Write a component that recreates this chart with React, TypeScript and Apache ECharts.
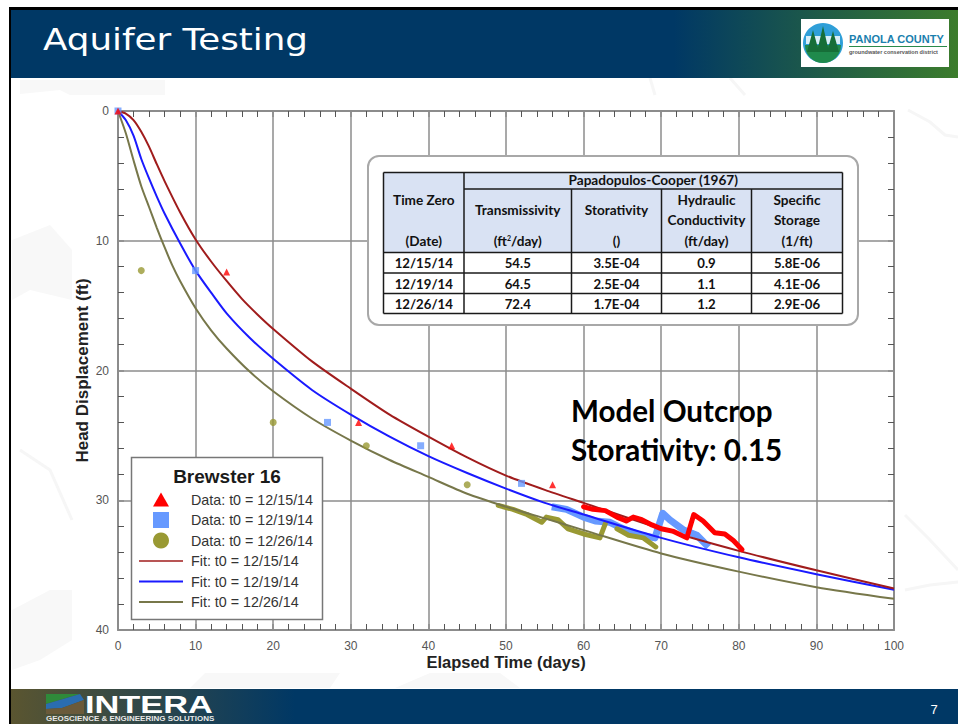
import React, { useEffect, useRef } from "react";
import * as echarts from "echarts";

const xTicks = [0, 100];
const yTicks = [0, 40];

const fitRed = [[0,0],[1,0.2],[2,0.7],[3,1.6],[4,2.75],[5,4.1],[6,5.4],[8,7.8],[10,9.9],[12,11.6],[14,13.1],[16,14.5],[18,15.7],[20,16.8],[25,19.3],[30,21.4],[35,23.4],[40,25.1],[45,26.7],[50,28.1],[55,29.2],[60,30.2],[70,32.2],[80,33.9],[90,35.4],[100,36.8]];
const fitBlue = [[0,0],[1,0.7],[2,1.9],[3,3.7],[4,5.2],[5,6.6],[6,7.9],[8,10.2],[10,12.3],[12,14],[14,15.6],[17,17.5],[20,19.1],[25,21.5],[30,23.4],[35,25.1],[40,26.6],[45,27.9],[50,29.1],[55,30.2],[60,31.1],[70,32.9],[80,34.4],[90,35.7],[100,36.9]];
const fitOlive = [[0,0],[1,1.7],[2,3.8],[3,5.8],[4,7.4],[5,9],[6,10.5],[7,11.9],[8,13.1],[10,15.2],[12,16.9],[14,18.3],[17,20.1],[20,21.6],[25,23.7],[30,25.4],[35,26.9],[40,28.2],[45,29.5],[50,30.5],[55,31.4],[60,32.3],[70,34.1],[80,35.5],[90,36.7],[100,37.6]];

const sparseRed = [[0,0],[14,12.4],[31,24],[43,25.8],[56,28.8]];
const sparseBlue = [[0,0],[10,12.3],[27,24],[39,25.8],[52,28.7]];
const sparseOlive = [[3,12.3],[20,24],[32,25.8],[45,28.8]];

const denseRed = [[60,30.5],[61.2,30.7],[62.8,30.8],[64.3,31.3],[65.5,31.6],[66.4,31.3],[67.5,31.5],[68.8,31.9],[70,32.2],[71.6,32.4],[73.3,32.9],[74.2,31.1],[75.4,31.6],[76.9,32.5],[78.2,32.6],[79.3,33.1],[80.4,33.8]];
const denseBlue = [[55.9,30.5],[57.8,30.7],[60,31.3],[61.5,31.6],[63.4,31.7],[65.1,32.2],[67.3,32.7],[69.2,32.9],[70.2,31],[71.1,31.5],[72.9,32.3],[74.6,32.7],[76.1,33.6]];
const denseOlive = [[49,30.4],[50.9,30.7],[52.7,31.1],[54.6,31.7],[55.2,31.3],[56.7,31.5],[58,32.2],[60,32.6],[62.1,32.9],[62.8,31.8]];
const denseOlive2 = [[64.3,32.2],[65.8,32.7],[67.7,32.9],[69.3,33.6]];

const tableRows = [
  ["12/15/14", "54.5", "3.5E-04", "0.9", "5.8E-06"],
  ["12/19/14", "64.5", "2.5E-04", "1.1", "4.1E-06"],
  ["12/26/14", "72.4", "1.7E-04", "1.2", "2.9E-06"],
];
const tableColumnHeads = [
  "Transmissivity", "Storativity", "Hydraulic", "Conductivity", "Specific", "Storage",
];
const tableUnits = ["(Date)", "(ft{s|2}/day)", "()", "(ft/day)", "(1/ft)"];

const legendData = [
  { label: "Data: t0 = 12/15/14", kind: "triangle", color: "#ff0000" },
  { label: "Data: t0 = 12/19/14", kind: "square", color: "#6699ff" },
  { label: "Data: t0 = 12/26/14", kind: "circle", color: "#999933" },
  { label: "Fit: t0 = 12/15/14", kind: "line", color: "#a01c1c" },
  { label: "Fit: t0 = 12/19/14", kind: "line", color: "#1a1aff" },
  { label: "Fit: t0 = 12/26/14", kind: "line", color: "#77774a" },
];

const AX = "#8c8c8c";
const ARIAL = "'Liberation Sans', Arial, sans-serif";
const CAL = "Lato, 'Open Sans', sans-serif";

function buildGraphics() {
  const g: any[] = [];
  const Z = 100;
  // backdrop
  g.push({ type: "rect", z: -20, silent: true, shape: { x: 0, y: 0, width: 958, height: 724 }, style: { fill: "#ffffff" } });
  const faint = [
    [[20,94],[60,90],[70,95],[165,95],[165,80],[20,80]],
    [[100,688],[190,688],[205,673],[340,673],[330,688]],
    [[395,688],[430,673],[500,673],[520,688]],
    [[12,240],[50,225],[72,250],[72,300],[30,290],[12,300]],
    [[12,610],[50,590],[72,590],[72,640],[40,660],[12,670]],
  ];
  faint.forEach((pts) => g.push({ type: "polygon", z: -15, silent: true, shape: { points: pts }, style: { fill: "#f8f8f8" } }));
  const faintLines = [
    [[908,110],[930,122],[945,135],[958,137]],
    [[905,515],[930,540],[958,570]],
    [[905,590],[930,585],[958,582]],
    [[20,450],[50,470],[72,520]],
    [[650,78],[655,95]],
    [[730,78],[745,95]],
  ];
  faintLines.forEach((pts) => g.push({ type: "polyline", z: -15, silent: true, shape: { points: pts }, style: { stroke: "#f6f6f6", lineWidth: 3, fill: "none" } }));

  // frame
  g.push({ type: "rect", z: Z, silent: true, shape: { x: 9, y: 7, width: 949, height: 3 }, style: { fill: "#000" } });
  g.push({ type: "rect", z: Z, silent: true, shape: { x: 9, y: 7, width: 2, height: 717 }, style: { fill: "#000" } });
  // header
  g.push({
    type: "rect", z: Z, silent: true, shape: { x: 11, y: 10, width: 947, height: 68 },
    style: { fill: new echarts.graphic.LinearGradient(0, 0, 1, 0, [
      { offset: 0, color: "#003865" }, { offset: 0.7, color: "#003865" }, { offset: 1, color: "#3c7c2c" },
    ]) },
  });
  g.push({ type: "text", z: Z + 1, silent: true, x: 43, y: 40, scaleX: 1.19, style: { text: "Aquifer Testing", fill: "#fff", font: "30px 'DejaVu Sans', sans-serif", verticalAlign: "middle" } });
  // county logo
  g.push({ type: "rect", z: Z + 1, silent: true, shape: { x: 801, y: 19, width: 148, height: 48 }, style: { fill: "#fff" } });
  g.push({ type: "circle", z: Z + 2, silent: true, shape: { cx: 823, cy: 43, r: 20 }, style: { fill: "#2f9fd8" } });
  g.push({ type: "rect", z: Z + 2, silent: true, shape: { x: 806, y: 36, width: 34, height: 8 }, style: { fill: "#d8eef8" } });
  g.push({ type: "sector", z: Z + 3, silent: true, shape: { cx: 823, cy: 45, r: 18, startAngle: 0, endAngle: Math.PI }, style: { fill: "#1f8a4c" } });
  [[813, 30], [823, 26], [833, 31]].forEach(([cx, top]) =>
    g.push({ type: "polygon", z: Z + 4, silent: true, shape: { points: [[cx, top], [cx + 6, 52], [cx - 6, 52]] }, style: { fill: "#166e38" } }));
  g.push({ type: "text", z: Z + 4, silent: true, x: 849, y: 39, style: { text: "PANOLA COUNTY", fill: "#1b7fae", font: "bold 11px 'Liberation Sans', sans-serif", verticalAlign: "middle" } });
  g.push({ type: "rect", z: Z + 4, silent: true, shape: { x: 849, y: 46, width: 98, height: 1 }, style: { fill: "#2a8a4a" } });
  g.push({ type: "text", z: Z + 4, silent: true, x: 849, y: 52, style: { text: "groundwater conservation district", fill: "#555", font: "bold 5.5px 'Liberation Sans', sans-serif", verticalAlign: "middle" } });

  // footer
  g.push({
    type: "rect", z: Z, silent: true, shape: { x: 11, y: 689, width: 947, height: 35 },
    style: { fill: new echarts.graphic.LinearGradient(0, 0, 1, 0, [
      { offset: 0, color: "#5a5530" }, { offset: 0.3, color: "#003865" }, { offset: 1, color: "#003865" },
    ]) },
  });
  g.push({ type: "polygon", z: Z + 1, silent: true, shape: { points: [[46,694],[80,694],[46,704]] }, style: { fill: "#2f8a3a" } });
  g.push({ type: "polygon", z: Z + 1, silent: true, shape: { points: [[46,704],[80,694],[84,700],[62,708],[46,709]] }, style: { fill: "#2a6db0" } });
  g.push({ type: "polygon", z: Z + 1, silent: true, shape: { points: [[46,709],[62,708],[84,700],[84,714],[46,714]] }, style: { fill: "#6a5a3a" } });
  g.push({ type: "text", z: Z + 1, silent: true, x: 85, y: 704, scaleX: 1.43, style: { text: "INTERA", fill: "#fff", font: "bold 24px 'Liberation Sans', sans-serif", verticalAlign: "middle" } });
  g.push({ type: "text", z: Z + 1, silent: true, x: 46, y: 719, scaleX: 1.25, style: { text: "GEOSCIENCE & ENGINEERING SOLUTIONS", fill: "#e8e8e8", font: "bold 6.4px 'Liberation Sans', sans-serif", verticalAlign: "middle" } });
  g.push({ type: "text", z: Z + 1, silent: true, x: 934, y: 709, style: { text: "7", fill: "#fff", font: "13px 'Liberation Sans', sans-serif", align: "center", verticalAlign: "middle" } });

  // model outcrop note
  g.push({ type: "text", z: Z, silent: true, x: 571, y: 410, style: { text: "Model Outcrop", fill: "#000", font: `bold 29.6px ${CAL}`, verticalAlign: "middle" } });
  g.push({ type: "text", z: Z, silent: true, x: 571, y: 449, style: { text: "Storativity: 0.15", fill: "#000", font: `bold 29.6px ${CAL}`, verticalAlign: "middle" } });

  // parameter table
  const cols = [383.5, 464, 571.5, 661.5, 751.5, 842.5];
  const rows = [172.5, 189, 252.5, 273, 293.5, 313.5];
  g.push({ type: "rect", z: Z, silent: true, shape: { x: 368, y: 156, width: 490, height: 169, r: 11 }, style: { fill: "#fff", stroke: "#a8a8a8", lineWidth: 2 } });
  g.push({ type: "rect", z: Z + 1, silent: true, shape: { x: cols[0], y: rows[0], width: cols[5] - cols[0], height: rows[2] - rows[0] }, style: { fill: "#d9e2f3" } });
  const line = (x1: number, y1: number, x2: number, y2: number, w = 1.5) =>
    g.push({ type: "line", z: Z + 2, silent: true, shape: { x1, y1, x2, y2 }, style: { stroke: "#1a1a1a", lineWidth: w } });
  [0, 2, 3, 4, 5].forEach((i) => line(cols[0], rows[i], cols[5], rows[i]));
  line(cols[1], rows[1], cols[5], rows[1]);
  line(cols[0], rows[0], cols[0], rows[5]);
  line(cols[1], rows[0], cols[1], rows[5]);
  [2, 3, 4].forEach((i) => line(cols[i], rows[1], cols[i], rows[5]));
  line(cols[5], rows[0], cols[5], rows[5]);
  const cell = (text: string, x: number, y: number, size = 13.6) =>
    g.push({
      type: "text", z: Z + 3, silent: true, x, y,
      style: {
        text, fill: "#111", font: `bold ${size}px ${CAL}`, align: "center", verticalAlign: "middle",
        rich: { s: { font: `bold 7px ${CAL}`, fill: "#111", verticalAlign: "top", lineHeight: 14, padding: [0, 0, 6, 0] } },
      },
    });
  const mid = (i: number) => (cols[i] + cols[i + 1]) / 2;
  cell("Papadopulos-Cooper (1967)", (cols[1] + cols[5]) / 2, 179.5);
  cell("Time Zero", mid(0), 200);
  cell(tableColumnHeads[0], mid(1), 210);
  cell(tableColumnHeads[1], mid(2), 210);
  cell(tableColumnHeads[2], mid(3), 200);
  cell(tableColumnHeads[3], mid(3), 220);
  cell(tableColumnHeads[4], mid(4), 200);
  cell(tableColumnHeads[5], mid(4), 220);
  tableUnits.forEach((u, i) => cell(u, mid(i), 241));
  tableRows.forEach((r, ri) => r.forEach((v, ci) => cell(v, mid(ci), (rows[ri + 2] + rows[ri + 3]) / 2 + 0.5, 13.2)));

  // legend box
  g.push({ type: "rect", z: Z, silent: true, shape: { x: 131.5, y: 457.5, width: 191, height: 162 }, style: { fill: "#fff", stroke: "#777", lineWidth: 1.5 } });
  g.push({ type: "text", z: Z + 1, silent: true, x: 227, y: 476, style: { text: "Brewster 16", fill: "#1a1a1a", font: `bold 19px ${ARIAL}`, align: "center", verticalAlign: "middle" } });
  legendData.forEach((it, i) => {
    const y = 499.5 + i * 20.5;
    g.push({ type: "text", z: Z + 1, silent: true, x: 191, y, style: { text: it.label, fill: "#333", font: `14.3px ${ARIAL}`, verticalAlign: "middle" } });
    if (it.kind === "triangle") g.push({ type: "polygon", z: Z + 1, silent: true, shape: { points: [[161, y - 7], [169, y + 7], [153, y + 7]] }, style: { fill: it.color } });
    if (it.kind === "square") g.push({ type: "rect", z: Z + 1, silent: true, shape: { x: 153, y: y - 8, width: 16, height: 16 }, style: { fill: it.color } });
    if (it.kind === "circle") g.push({ type: "circle", z: Z + 1, silent: true, shape: { cx: 161, cy: y, r: 8 }, style: { fill: it.color } });
    if (it.kind === "line") g.push({ type: "line", z: Z + 1, silent: true, shape: { x1: 139, y1: y, x2: 183, y2: y }, style: { stroke: it.color, lineWidth: i === 3 ? 1.5 : 2 } });
  });
  return g;
}

const minorTick = { show: true, splitNumber: 5, length: 6, lineStyle: { color: "#555", width: 1 } };
const fitStyle = { symbol: "none", smooth: 0.25 };

export default function App() {
  const ref = useRef<HTMLDivElement>(null);
  useEffect(() => {
    document.body.style.margin = "0";
    const chart = echarts.init(ref.current!, undefined, { renderer: "svg" });
    const valAxis = (extra: any) => ({
      type: "value",
      interval: 10,
      axisLine: { show: true, onZero: false, lineStyle: { color: AX, width: 2 } },
      axisTick: { show: true, inside: true, length: 6, lineStyle: { color: AX, width: 1.5 } },
      minorTick,
      ...extra,
    });
    chart.setOption({
      animation: false,
      backgroundColor: "transparent",
      grid: { left: 118, top: 111, width: 776, height: 519, containLabel: false },
      graphic: { elements: buildGraphics() },
      xAxis: [
        valAxis({
          position: "bottom", min: xTicks[0], max: xTicks[1],
          name: "Elapsed Time (days)", nameLocation: "middle", nameGap: 23, nameMoveOverlap: false,
          nameTextStyle: { fontFamily: ARIAL, fontWeight: "bold", fontSize: 16.5, color: "#222" },
          axisLabel: { fontFamily: ARIAL, fontSize: 12, color: "#555", margin: 10 },
          splitLine: { show: true, lineStyle: { color: AX, width: 1.5 } },
        }),
        valAxis({ position: "top", min: xTicks[0], max: xTicks[1], axisLabel: { show: false }, splitLine: { show: false } }),
      ],
      yAxis: [
        valAxis({
          position: "left", inverse: true, min: yTicks[0], max: yTicks[1],
          name: "Head Displacement (ft)", nameLocation: "middle", nameGap: 27, nameMoveOverlap: false, nameRotate: 90,
          nameTextStyle: { fontFamily: ARIAL, fontWeight: "bold", fontSize: 17, color: "#222" },
          axisLabel: { fontFamily: ARIAL, fontSize: 12, color: "#555", margin: 9 },
          splitLine: { show: true, lineStyle: { color: AX, width: 1.5 } },
        }),
        valAxis({ position: "right", inverse: true, min: yTicks[0], max: yTicks[1], axisLabel: { show: false }, splitLine: { show: false } }),
      ],
      series: [
        { name: "Data: t0 = 12/19/14", type: "line", z: 3, data: denseBlue, symbol: "none", lineStyle: { color: "#6699ff", width: 7, join: "round" } },
        { name: "Data: t0 = 12/26/14", type: "line", z: 3, data: denseOlive2, symbol: "none", lineStyle: { color: "#999933", width: 5, cap: "round", join: "round" } },
        { name: "Data: t0 = 12/26/14", type: "line", z: 4, data: denseOlive, symbol: "none", lineStyle: { color: "#999933", width: 5, cap: "round", join: "round" } },
        { name: "Fit: t0 = 12/26/14", type: "line", z: 5, data: fitOlive, ...fitStyle, lineStyle: { color: "#77774a", width: 2 } },
        { name: "Fit: t0 = 12/19/14", type: "line", z: 5, data: fitBlue, ...fitStyle, lineStyle: { color: "#1a1aff", width: 2 } },
        { name: "Fit: t0 = 12/15/14", type: "line", z: 5, data: fitRed, ...fitStyle, lineStyle: { color: "#a01c1c", width: 2 } },
        { name: "Data: t0 = 12/15/14", type: "line", z: 6, data: denseRed, symbol: "none", lineStyle: { color: "#ff0000", width: 5, cap: "round", join: "round" } },
        { name: "Data: t0 = 12/19/14", type: "scatter", z: 6, clip: false, data: sparseBlue, symbol: "rect", symbolSize: 7, itemStyle: { color: "#6699ff" } },
        { name: "Data: t0 = 12/26/14", type: "scatter", z: 6, clip: false, data: sparseOlive, symbol: "circle", symbolSize: 7, itemStyle: { color: "#999933" } },
        { name: "Data: t0 = 12/15/14", type: "scatter", z: 7, clip: false, data: sparseRed, symbol: "triangle", symbolSize: 7, itemStyle: { color: "#ff0000" } },
      ],
    });
    return () => chart.dispose();
  }, []);
  return <div ref={ref} style={{ position: "absolute", left: 0, top: 0, width: 958, height: 724 }} />;
}
